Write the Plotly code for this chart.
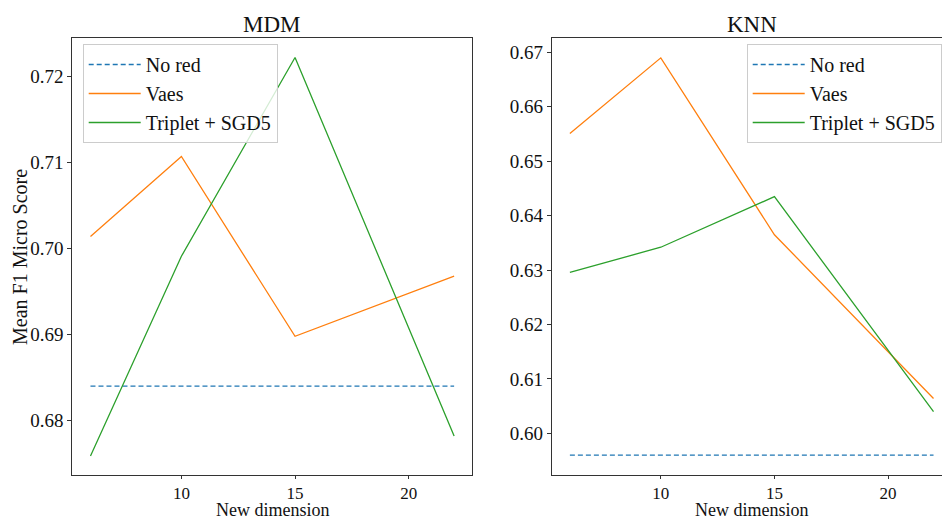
import plotly.graph_objects as go

dims = [6, 10, 15, 22]
series_names = ["No red", "Vaes", "Triplet + SGD5"]

mdm_no_red = [0.6840, 0.6840, 0.6840, 0.6840]
mdm_vaes = [0.7014, 0.7107, 0.6898, 0.6968]
mdm_triplet = [0.6759, 0.6991, 0.7222, 0.6782]

knn_no_red = [0.5960, 0.5960, 0.5960, 0.5960]
knn_vaes = [0.6551, 0.6690, 0.6365, 0.6064]
knn_triplet = [0.6296, 0.6342, 0.6435, 0.6040]

x_ticks = [10, 15, 20]
mdm_y_ticks = [0.68, 0.69, 0.70, 0.71, 0.72]
knn_y_ticks = [0.60, 0.61, 0.62, 0.63, 0.64, 0.65, 0.66, 0.67]

colors = ["#1f77b4", "#ff7f0e", "#2ca02c"]
dashes = ["5px,3px", "solid", "solid"]
FONT = "Liberation Serif"
W, H = 942, 522
L_T, L_B = 38, 475
X1L, X1R = 72.3, 472.3
X2L, X2R = 551.7, 951.7

fig = go.Figure()

panels = [
    ("x", "y", "legend", [mdm_no_red, mdm_vaes, mdm_triplet]),
    ("x2", "y2", "legend2", [knn_no_red, knn_vaes, knn_triplet]),
]
for xa, ya, lg, vals in panels:
    for i, (name, v) in enumerate(zip(series_names, vals)):
        fig.add_trace(go.Scatter(
            x=dims, y=v, mode="lines", name=name,
            line=dict(color=colors[i], width=1.3, dash=dashes[i]),
            xaxis=xa, yaxis=ya, legend=lg, legendgroup=f"{lg}{i}",
        ))

axis_common = dict(
    showgrid=False, zeroline=False, showline=True, linecolor="#333333", linewidth=1,
    ticks="outside", ticklen=4, tickcolor="#333333", tickwidth=1, automargin=False,
    tickfont=dict(family=FONT, size=19, color="#111111"),
)
x_axis_extra = dict(ticklen=3, tickfont=dict(family=FONT, size=17, color="#111111"))

plot_h = L_B - L_T

def py(px):
    return (L_B - px) / plot_h

def pxx(px):
    return px / W

x2_range_right = 22.8 - (X2R - W) / ((X2R - X2L) / 17.6)

legend_common = dict(
    xanchor="left", yanchor="top", y=py(44),
    bgcolor="rgba(255,255,255,0.8)", bordercolor="#cccccc", borderwidth=1,
    font=dict(family=FONT, size=20, color="#111111"), tracegroupgap=0, itemwidth=52,
)

fig.update_layout(
    width=W, height=H,
    margin=dict(l=0, r=0, t=L_T, b=H - L_B, autoexpand=False),
    paper_bgcolor="white", plot_bgcolor="white",
    font=dict(family=FONT, size=20, color="#111111"),
    xaxis=dict(axis_common, **x_axis_extra, domain=[pxx(X1L), pxx(X1R)], range=[5.2, 22.8],
               tickvals=x_ticks, mirror=True, anchor="y"),
    yaxis=dict(axis_common, domain=[0, 1], range=[0.67368, 0.72447],
               tickvals=mdm_y_ticks, tickformat=".2f", mirror=True, anchor="x"),
    xaxis2=dict(axis_common, **x_axis_extra, domain=[pxx(X2L), 1.0], range=[5.2, x2_range_right],
                tickvals=x_ticks, mirror=True, anchor="y2"),
    yaxis2=dict(axis_common, domain=[0, 1], range=[0.59235, 0.67265],
                tickvals=knn_y_ticks, tickformat=".2f", anchor="x2"),
    legend=dict(legend_common, x=pxx(82.7)),
    legend2=dict(legend_common, x=pxx(746.7)),
    showlegend=True,
    annotations=[
        dict(text="MDM", x=pxx((X1L + X1R) / 2), y=py(25), xref="paper", yref="paper",
             xanchor="center", yanchor="middle", showarrow=False,
             font=dict(family=FONT, size=23, color="#111111")),
        dict(text="KNN", x=pxx((X2L + X2R) / 2), y=py(25), xref="paper", yref="paper",
             xanchor="center", yanchor="middle", showarrow=False,
             font=dict(family=FONT, size=23, color="#111111")),
        dict(text="New dimension", x=pxx((X1L + X1R) / 2), y=py(522), xref="paper", yref="paper",
             xanchor="center", yanchor="bottom", showarrow=False,
             font=dict(family=FONT, size=18, color="#111111")),
        dict(text="New dimension", x=pxx((X2L + X2R) / 2), y=py(522), xref="paper", yref="paper",
             xanchor="center", yanchor="bottom", showarrow=False,
             font=dict(family=FONT, size=18, color="#111111")),
        dict(text="Mean F1 Micro Score", x=pxx(20), y=py(257), xref="paper", yref="paper",
             xanchor="center", yanchor="middle", showarrow=False, textangle=-90,
             font=dict(family=FONT, size=20, color="#111111")),
    ],
)

fig.write_html(
    "out.html",
    config={"displayModeBar": False},
    post_script="document.body.style.margin='0';document.body.style.overflow='hidden';",
)
